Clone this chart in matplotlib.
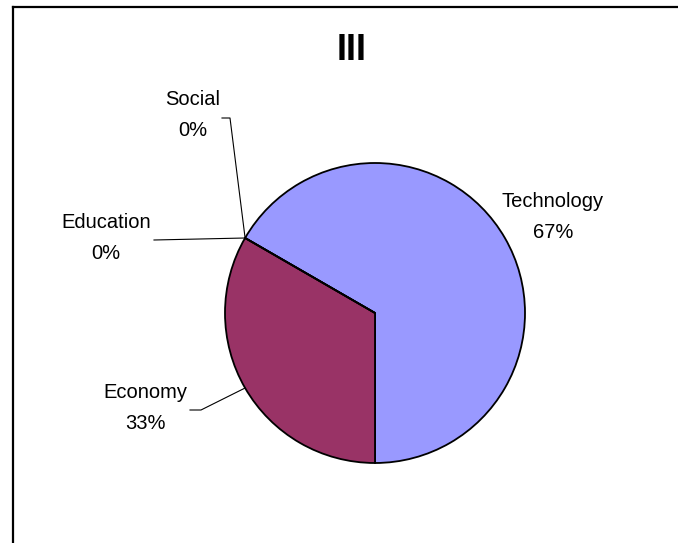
import numpy as np
import matplotlib
matplotlib.use("Agg")
import matplotlib.pyplot as plt

plt.rcParams['font.family'] = ['Liberation Sans', 'DejaVu Sans']

# data
categories = ["Technology", "Economy", "Education", "Social"]
values = [2, 1, 0, 0]
colors = ["#9999FF", "#993366", "#FFFFCC", "#CCFFFF"]
title = "III"

# label text positions (pixel coords, y up) and leader line bends
label_pos = {
    "Technology": (553, 326),
    "Economy": (145, 135),
    "Education": (106, 305),
    "Social": (193, 428),
}
leader_bend = {
    "Economy": [(190, 133), (201, 133)],
    "Education": [(154, 303)],
    "Social": [(222, 425), (230, 425)],
}

W, H = 678, 543
fig = plt.figure(figsize=(W / 100, H / 100), dpi=100)
ax = fig.add_axes([0, 0, 1, 1])

center = (375, 230)
radius = 150
wedges, _ = ax.pie(values, colors=colors, startangle=150, counterclock=False,
                   center=center, radius=radius, frame=True,
                   wedgeprops=dict(edgecolor="black", linewidth=1.3))
ax.set_xlim(0, W)
ax.set_ylim(0, H)
ax.axis("off")

total = float(sum(values))
for w, name, v in zip(wedges, categories, values):
    mid = np.deg2rad((w.theta1 + w.theta2) / 2)
    edge = (center[0] + radius * np.cos(mid), center[1] + radius * np.sin(mid))
    tx, ty = label_pos[name]
    ax.text(tx, ty, f"{name}\n{v / total:.0%}", ha="center", va="center",
            fontsize=14.5, linespacing=1.75)
    if name in leader_bend:
        pts = leader_bend[name] + [edge]
        xs, ys = zip(*pts)
        ax.plot(xs, ys, color="black", lw=0.8)

ax.text(352, H - 50, title, ha="center", va="center", fontsize=26,
        fontweight="bold")

# chart frame (top and left edges visible)
ax.plot([13, W], [H - 7, H - 7], color="black", lw=1.6, clip_on=False)
ax.plot([13, 13], [H - 7, 0], color="black", lw=1.6, clip_on=False)

fig.savefig("out.png", dpi=100)
